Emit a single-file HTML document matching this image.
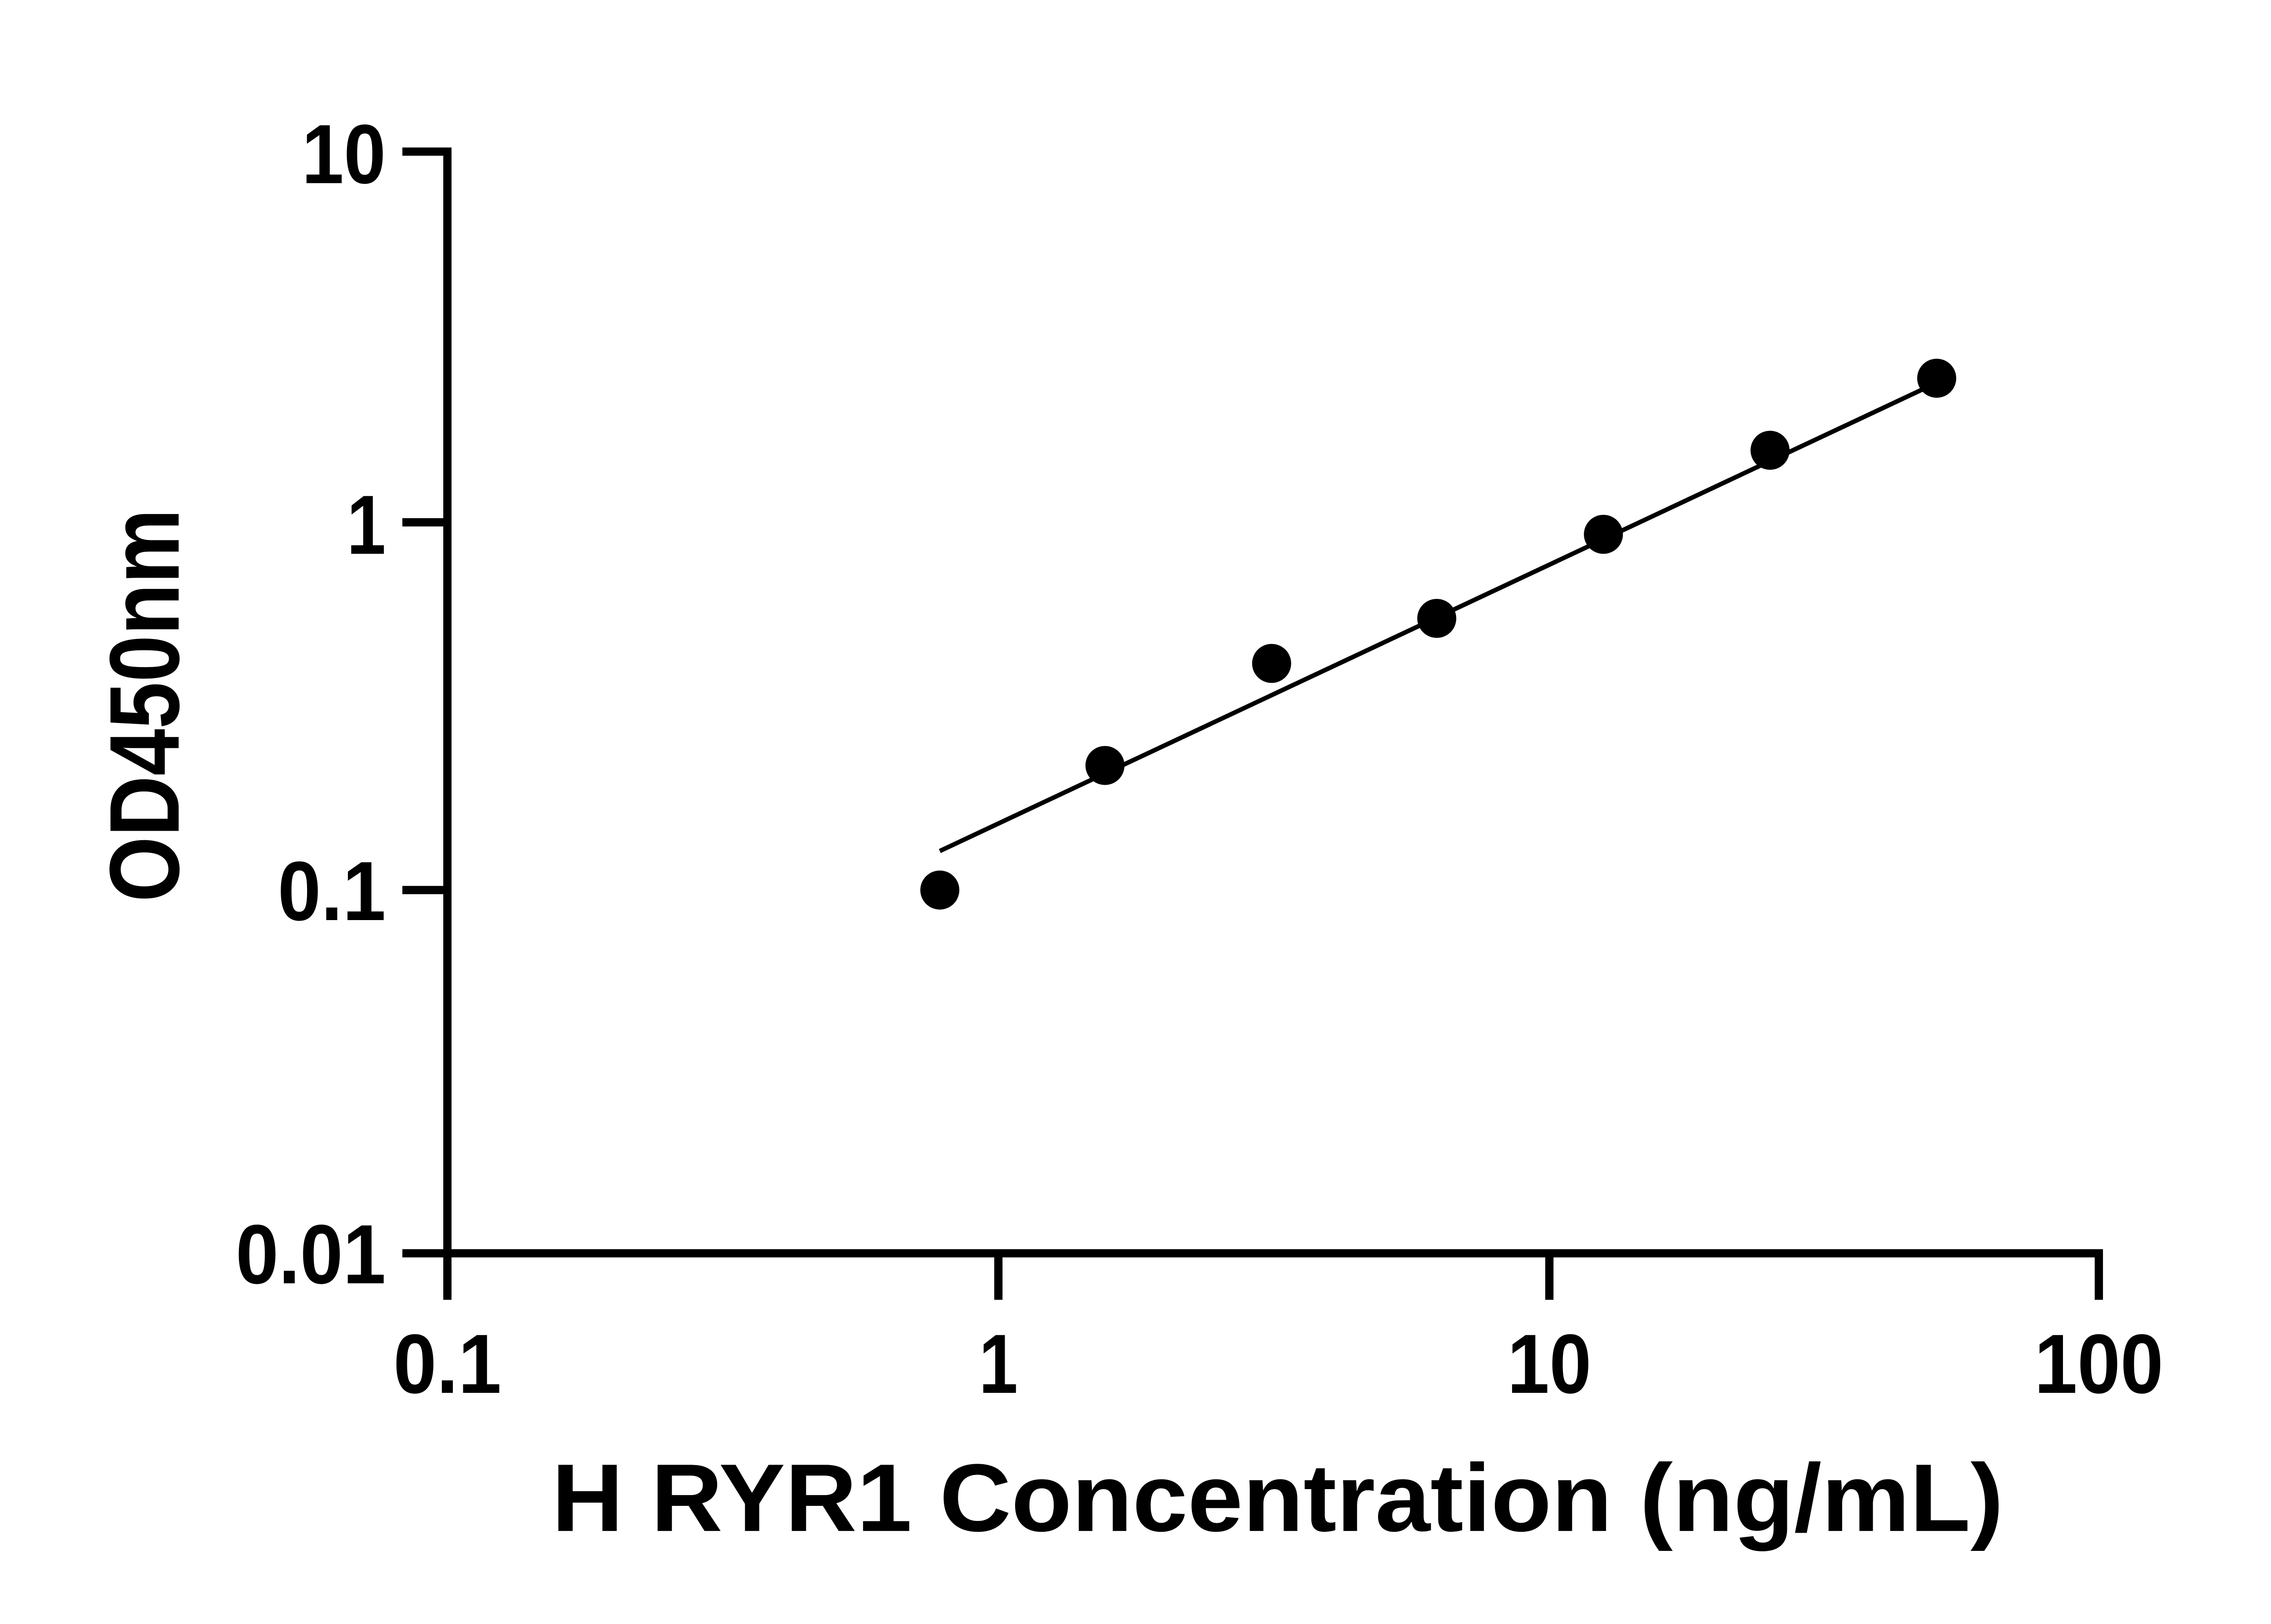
<!DOCTYPE html>
<html><head><meta charset="utf-8"><style>html,body{margin:0;padding:0;background:#fff}svg{display:block}</style></head>
<body>
<svg width="5130" height="3576" viewBox="0 0 1552 1082" preserveAspectRatio="none" xmlns="http://www.w3.org/2000/svg">
<rect width="1552" height="1082" fill="#fff"/>
<g stroke="#000" stroke-width="5.5" fill="none" stroke-linecap="butt">
<path d="M268,101 H298 V835 H1398 V866"/>
<path d="M268,348 H298 M268,593 H298 M268,835 H298"/>
<path d="M298,835 V866 M665,835 V866 M1032,835 V866"/>
</g>
<line x1="626" y1="567" x2="1290" y2="255" stroke="#000" stroke-width="3"/>
<g fill="#000">
<circle cx="626" cy="593" r="13"/>
<circle cx="736" cy="510" r="13"/>
<circle cx="847" cy="442" r="13"/>
<circle cx="957" cy="412" r="13"/>
<circle cx="1068" cy="356" r="13"/>
<circle cx="1179" cy="300" r="13"/>
<circle cx="1290" cy="252" r="13"/>
</g>
<g font-family="Liberation Sans, sans-serif" font-weight="bold" font-size="56" fill="#000">
<text x="257" y="122" text-anchor="end" textLength="56" lengthAdjust="spacingAndGlyphs">10</text>
<text x="257" y="369" text-anchor="end" textLength="26" lengthAdjust="spacingAndGlyphs">1</text>
<text x="257" y="613" text-anchor="end" textLength="72" lengthAdjust="spacingAndGlyphs">0.1</text>
<text x="257" y="855" text-anchor="end" textLength="100" lengthAdjust="spacingAndGlyphs">0.01</text>
<text x="298" y="928" text-anchor="middle" textLength="72" lengthAdjust="spacingAndGlyphs">0.1</text>
<text x="665" y="928" text-anchor="middle" textLength="26" lengthAdjust="spacingAndGlyphs">1</text>
<text x="1032" y="928" text-anchor="middle" textLength="56" lengthAdjust="spacingAndGlyphs">10</text>
<text x="1398" y="928" text-anchor="middle" textLength="86" lengthAdjust="spacingAndGlyphs">100</text>
</g>
<text x="851" y="1020" text-anchor="middle" font-family="Liberation Sans, sans-serif" font-weight="bold" font-size="64" textLength="967" lengthAdjust="spacingAndGlyphs">H RYR1 Concentration (ng/mL)</text>
<text transform="translate(119,470) rotate(-90)" text-anchor="middle" font-family="Liberation Sans, sans-serif" font-weight="bold" font-size="66" textLength="262" lengthAdjust="spacingAndGlyphs">OD450nm</text>
</svg>
</body></html>
